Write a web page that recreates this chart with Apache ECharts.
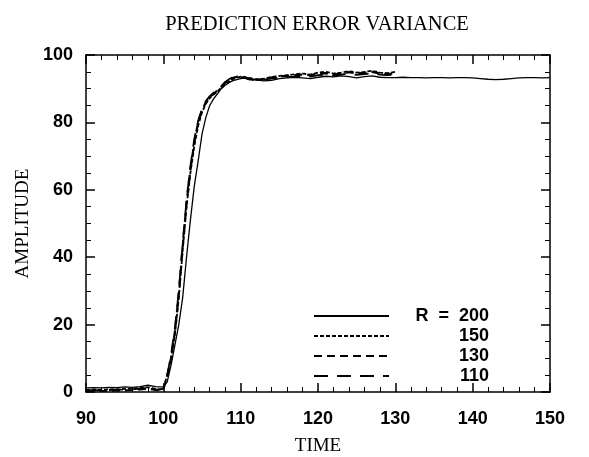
<!DOCTYPE html>
<html><head><meta charset="utf-8">
<script src="https://cdn.jsdelivr.net/npm/echarts@6/dist/echarts.min.js"></script>
<style>html,body{margin:0;padding:0;background:#fff}#c{width:589px;height:457px}</style>
</head><body><div id="c"></div>
<script>
const times = [90,91,92,93,94,95,96,97,98,99,
  99.5,100,100.5,101,101.5,102,102.5,103,103.5,104,104.5,105,105.5,106,106.5,107,107.5,108,108.5,109,
  110,111,112,113,114,115,116,117,118,119,120,121,122,123,124,125,126,127,128,129,130,
  131,132,133,134,135,136,137,138,139,140,141,142,143,144,145,146,147,148,149,150];
const r200 = [1.2,1.3,1.2,1.4,1.3,1.5,1.4,1.6,2.0,1.6,
  1.5,1.5,3,8,14,20,28,40,51,61,68.5,76.5,81.5,85,87,88.5,90,91,91.8,92.4,
  93,93.2,92.6,92.3,92.5,93,93.2,93.4,93.2,93,93.4,93.7,93.5,93.8,93.6,93.2,93.6,93.8,93.4,93.3,93.3,
  93.4,93.3,93.3,93.2,93.3,93.3,93.2,93.3,93.3,93.2,93.0,92.8,92.7,92.8,93.0,93.2,93.3,93.3,93.2,93.3];
const r150 = [0.6,0.7,0.6,0.8,0.7,0.9,1.0,1.2,1.4,0.9,
  0.8,1.0,5,10,17,28,42,55,65,73,79,83,85.5,87.2,88.3,89.2,90.3,91.5,92.2,92.8,
  93.6,93.2,92.8,93.0,93.5,93.8,94.0,94.3,94.5,94.2,94.8,95.0,94.5,94.8,95.2,94.8,95.0,95.3,94.8,94.6,95.0];
const r130 = [0.3,0.4,0.3,0.4,0.5,0.5,0.6,0.8,1.0,0.6,
  0.5,0.8,4.5,10,18,29,43,56,66,74,80,83.5,86,87.5,88.5,89.5,90.5,91.8,92.5,93.2,
  93.8,93.0,92.6,92.9,93.3,93.6,93.8,94.0,94.2,94.0,94.5,94.6,94.2,94.6,94.9,94.5,94.7,95.0,94.5,94.3,94.6];
const r110 = [0.5,0.5,0.6,0.6,0.7,0.7,0.8,1.0,1.2,0.8,
  0.7,0.9,5,11,19,30,44,57,67,75,80.5,84,86.3,87.8,88.8,89.8,90.8,92.0,92.8,93.5,
  93.5,92.8,92.5,92.7,93.0,93.3,93.5,93.6,93.8,93.6,94.0,94.2,93.8,94.2,94.5,94.1,94.3,94.6,94.2,94.0,94.3];
const seriesNames = ['R = 200','150','130','110'];
const seriesValues = [r200, r150, r130, r110];
const dashStyles = ['solid',[4,2],[8,5],[14,9]];
const widths = [1.3,1.8,2.2,1.8];

const pairs = v => v.map((a,i)=>[times[i],a]);
const chart = echarts.init(document.getElementById('c'), null, {renderer:'canvas'});
const sans = 'Liberation Sans, Arial, sans-serif';
const serif = 'Liberation Serif, DejaVu Serif, serif';
const tickFont = {fontFamily:sans, fontSize:18, fontWeight:'bold', color:'#000'};
const axisLine = {show:true,onZero:false,lineStyle:{color:'#000',width:1.5}};
const axisTick = {show:true,inside:true,length:9,lineStyle:{color:'#000',width:1.5}};
const mk = (n)=>({show:true,splitNumber:n,length:5,lineStyle:{color:'#000',width:1}});
chart.setOption({
  animation:false,
  backgroundColor:'#fff',
  title:{text:'PREDICTION ERROR VARIANCE',left:312,top:9,textAlign:'center',
    textStyle:{fontFamily:serif,fontSize:20.5,fontWeight:'normal',color:'#000'}},
  grid:{left:86,right:39,top:55,bottom:65,containLabel:false,outerBoundsMode:'none'},
  legend:{orient:'vertical',left:308,top:302,itemWidth:75,itemHeight:14,itemGap:2,
    data:seriesNames,
    itemStyle:{opacity:0},
    formatter: n => '{a|' + n.replace(' = ', '  =  ') + '}',
    textStyle:{color:'#000',rich:{a:{fontFamily:sans,fontSize:18,fontWeight:'bold',color:'#000',
      width:95,align:'right',lineHeight:20}}}},
  xAxis:[
    {type:'value',min:90,max:150,interval:10,
      name:'TIME',nameLocation:'middle',nameGap:45,
      nameTextStyle:{fontFamily:serif,fontSize:19,color:'#000'},
      axisLabel:Object.assign({margin:18},tickFont),
      axisLine:axisLine,axisTick:axisTick,minorTick:mk(5),splitLine:{show:false}},
    {type:'value',position:'top',min:90,max:150,interval:10,axisLabel:{show:false},
      axisLine:axisLine,axisTick:axisTick,minorTick:mk(5),splitLine:{show:false}}
  ],
  yAxis:[
    {type:'value',min:0,max:100,interval:20,
      name:'AMPLITUDE',nameLocation:'middle',nameGap:50,
      nameTextStyle:{fontFamily:serif,fontSize:19,color:'#000'},
      axisLabel:Object.assign({margin:13},tickFont),
      axisLine:axisLine,axisTick:axisTick,minorTick:mk(4),splitLine:{show:false}},
    {type:'value',position:'right',min:0,max:100,interval:20,axisLabel:{show:false},
      axisLine:axisLine,axisTick:axisTick,minorTick:mk(4),splitLine:{show:false}}
  ],
  series: seriesNames.map((n,i)=>({
    name:n,type:'line',xAxisIndex:0,yAxisIndex:0,data:pairs(seriesValues[i]),
    showSymbol:false,symbol:'none',smooth:false,
    lineStyle:{color:'#000',width:widths[i],type:dashStyles[i]},
    itemStyle:{color:'#000'}
  }))
});
</script></body></html>
